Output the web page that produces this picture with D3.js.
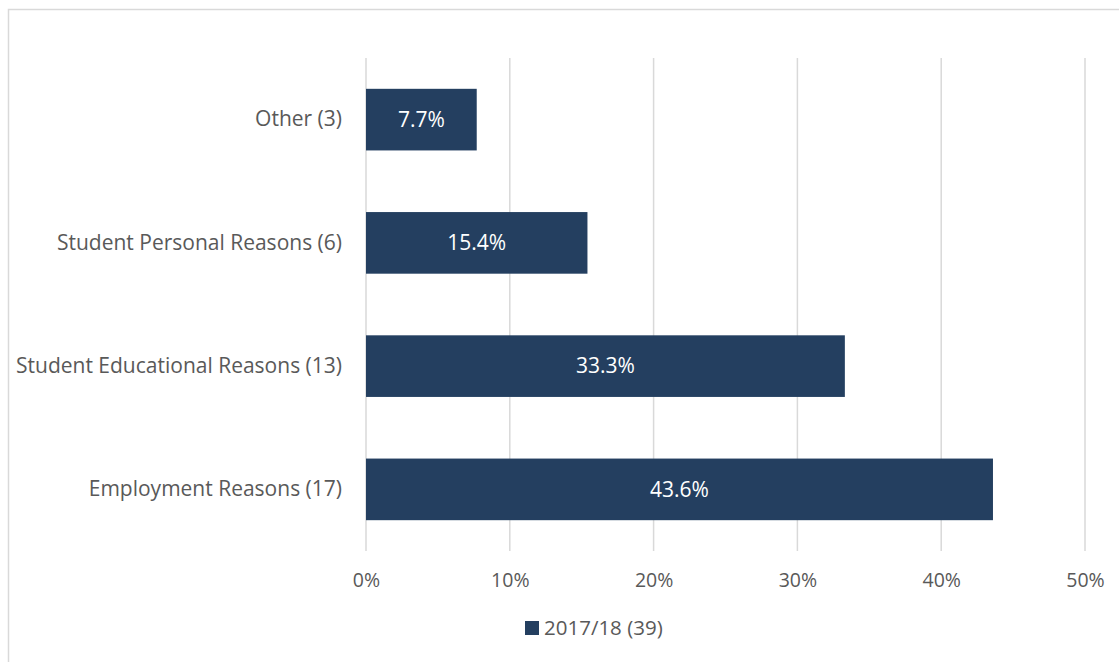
<!DOCTYPE html>
<html>
<head>
<meta charset="utf-8">
<script src="https://cdn.jsdelivr.net/npm/d3@7"></script>
<style>
  body { margin: 0; background: #fff; }
  svg text { font-family: "Open Sans", "Noto Sans", sans-serif; }
</style>
</head>
<body>
<div class="chart"></div>
<script>
// data
var categories = ["Other (3)", "Student Personal Reasons (6)", "Student Educational Reasons (13)", "Employment Reasons (17)"];
var values = [7.7, 15.4, 33.3, 43.6];
var tickValues = [0, 10, 20, 30, 40, 50];
var seriesName = "2017/18 (39)";

var svgWidth = 1119;
var svgHeight = 662;
var margin = { top: 58, right: 34, bottom: 111, left: 366 };
var width = svgWidth - margin.left - margin.right;
var height = svgHeight - margin.top - margin.bottom;
var barColor = "#243f60";
var textColor = "#595959";

var svg = d3.select(".chart")
  .append("svg")
  .attr("width", svgWidth)
  .attr("height", svgHeight);

// outer chart border
svg.append("rect")
  .attr("x", 8.5).attr("y", 9.5)
  .attr("width", svgWidth + 20).attr("height", svgHeight + 20)
  .attr("fill", "none")
  .attr("stroke", "#d9d9d9")
  .attr("stroke-width", 1.5);

var chart = svg.append("g")
  .attr("transform", `translate(${margin.left}, ${margin.top})`);

var xScale = d3.scaleLinear().domain([0, 50]).range([0, width]);
var yScale = d3.scaleBand().domain(categories).range([0, height])
  .paddingInner(0.5).paddingOuter(0.25);

// gridlines
chart.selectAll(".grid")
  .data(tickValues)
  .enter().append("line")
  .attr("x1", d => xScale(d)).attr("x2", d => xScale(d))
  .attr("y1", 0).attr("y2", height)
  .attr("stroke", "#d9d9d9")
  .attr("stroke-width", 1.5);

// x tick labels
var xAxis = d3.axisBottom(xScale).tickValues(tickValues).tickSize(0).tickPadding(22)
  .tickFormat(d => d + "%");
var xg = chart.append("g").attr("transform", `translate(0, ${height})`).call(xAxis);
xg.select(".domain").remove();
xg.selectAll("text").attr("fill", textColor).style("font-size", "19.5px");

// category labels
var yAxis = d3.axisLeft(yScale).tickSize(0).tickPadding(24);
var yg = chart.append("g").call(yAxis);
yg.select(".domain").remove();
yg.selectAll("text").attr("fill", textColor).style("font-size", "21px");

// bars
chart.selectAll(".bar")
  .data(values)
  .enter().append("rect")
  .attr("x", 0)
  .attr("y", (d, i) => yScale(categories[i]))
  .attr("width", d => xScale(d))
  .attr("height", yScale.bandwidth())
  .attr("fill", barColor);

// bar labels
chart.selectAll(".lbl")
  .data(values)
  .enter().append("text")
  .attr("x", d => xScale(d) / 2)
  .attr("y", (d, i) => yScale(categories[i]) + yScale.bandwidth() / 2)
  .attr("dy", "0.35em")
  .attr("text-anchor", "middle")
  .attr("fill", "#ffffff")
  .style("font-size", "21px")
  .text(d => d.toFixed(1) + "%");

// legend
var legend = svg.append("g").attr("transform", "translate(525, 628)");
legend.append("rect")
  .attr("x", 0).attr("y", -7)
  .attr("width", 14).attr("height", 14)
  .attr("fill", barColor);
legend.append("text")
  .attr("x", 19).attr("y", 0)
  .attr("dy", "0.35em")
  .attr("fill", textColor)
  .style("font-size", "20.5px")
  .text(seriesName);
</script>
</body>
</html>
